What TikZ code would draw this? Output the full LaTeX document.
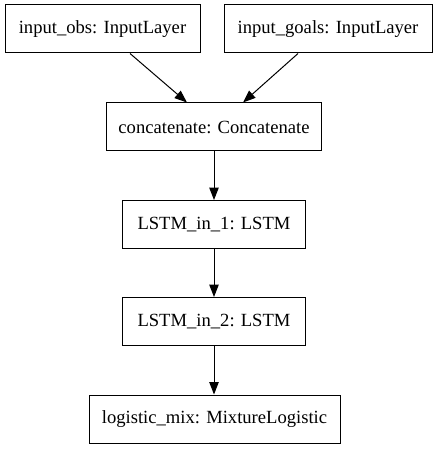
\documentclass[tikz,border=0pt]{standalone}
\usepackage{fontspec}
\setmainfont{Liberation Serif}
\usetikzlibrary{arrows.meta}
\begin{document}
\begin{tikzpicture}[x=1pt,y=-1pt,
  layer/.style={draw=black,line width=1pt,rectangle,inner sep=0pt,minimum height=48pt,font=\fontsize{18.6pt}{21pt}\selectfont},
  conn/.style={line width=1pt,-{Triangle[length=12.5pt,width=9.5pt]}}]
\useasboundingbox (0,0) rectangle (437,449);
\node[layer,minimum width=195pt] (obs) at (102.5,29) {input\_obs: InputLayer};
\node[layer,minimum width=208pt] (goals) at (328,29) {input\_goals: InputLayer};
\node[layer,minimum width=215pt] (concat) at (214,127) {concatenate: Concatenate};
\node[layer,minimum width=183pt] (l1) at (214,224.5) {LSTM\_in\_1: LSTM};
\node[layer,minimum width=183pt] (l2) at (214,321.5) {LSTM\_in\_2: LSTM};
\node[layer,minimum width=251pt] (mix) at (214.5,419) {logistic\_mix: MixtureLogistic};
\draw[conn] ([xshift=27.5pt]obs.south) -- ([xshift=-27pt]concat.north);
\draw[conn] ([xshift=-30pt]goals.south) -- ([xshift=29pt]concat.north);
\draw[conn] (concat) -- (l1);
\draw[conn] (l1) -- (l2);
\draw[conn] (l2.south) -- (l2.south |- mix.north);
\end{tikzpicture}
\end{document}
